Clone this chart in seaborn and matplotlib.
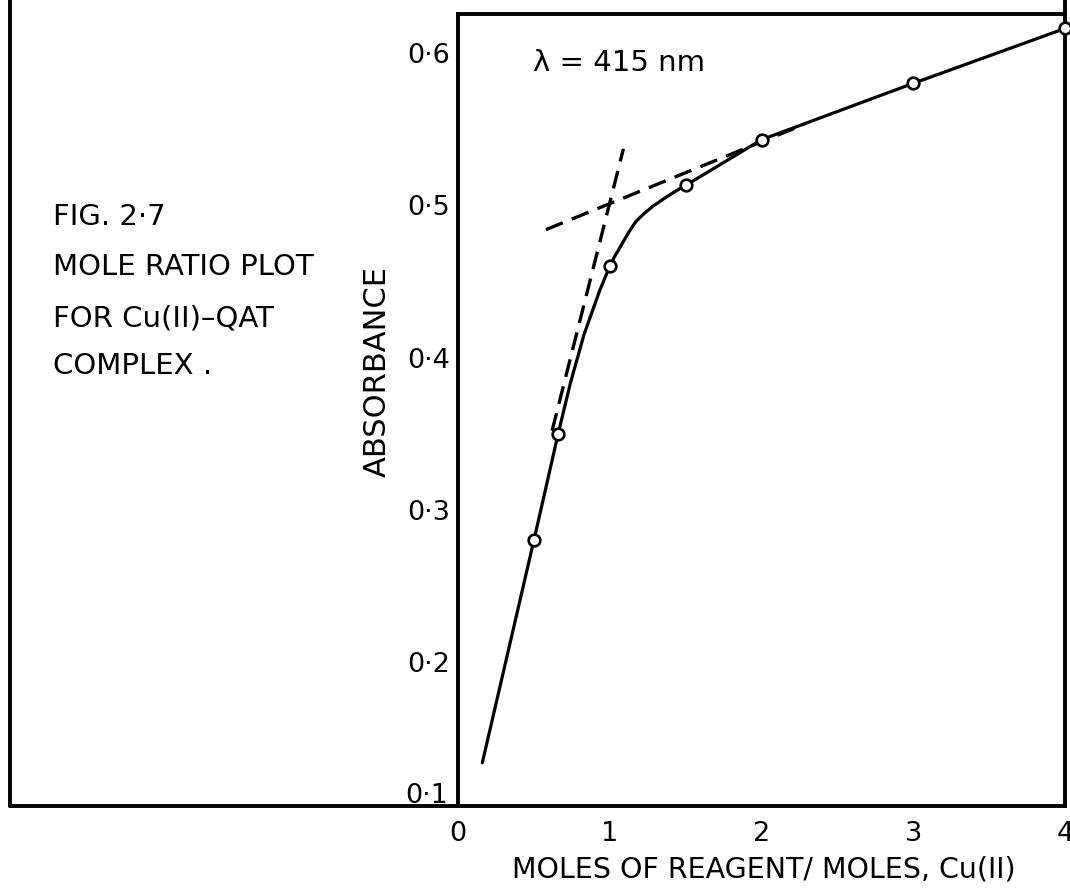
import numpy as np
import pandas as pd
import matplotlib.pyplot as plt
from matplotlib.lines import Line2D
from matplotlib.ticker import FixedLocator, FixedFormatter
import seaborn as sns

# --- data ---
ratio_pts = [0.5, 0.66, 1.0, 1.5, 2.0, 3.0, 4.0]
absorb_pts = [0.28, 0.35, 0.46, 0.513, 0.543, 0.58, 0.616]

# hand-drawn curve
curve_x = [0.16, 0.5, 0.66, 0.74, 0.83, 0.93, 1.0, 1.03, 1.06, 1.1, 1.13, 1.17,
           1.22, 1.28, 1.36, 1.43, 1.5, 1.75, 2.0, 3.0, 4.0]
curve_y = [0.134, 0.28, 0.35, 0.383, 0.415, 0.443, 0.46, 0.466, 0.471, 0.478, 0.483, 0.489,
           0.494, 0.499, 0.5045, 0.509, 0.513, 0.528, 0.543, 0.58, 0.616]

# tangent (dashed) lines
steep_x = [0.62, 1.09]
steep_y = [0.352, 0.537]
shallow_x = [0.58, 2.28]
shallow_y = [0.484, 0.553]

x_ticks = [0, 1, 2, 3, 4]
x_labels = ["0", "1", "2", "3", "4"]
y_ticks = [0.2, 0.3, 0.4, 0.5, 0.6]
y_labels = ["0·2", "0·3", "0·4", "0·5", "0·6"]

caption = ["FIG. 2·7", "MOLE RATIO PLOT", "FOR Cu(II)–QAT", "COMPLEX ."]

# --- style ---
sns.set_theme(style="white")
plt.rcParams["font.family"] = ["DejaVu Sans"]
plt.rcParams["lines.scale_dashes"] = False

fig = plt.figure(figsize=(10.7, 8.94), dpi=100)
ax = fig.add_axes([458 / 1070, 88 / 894, 607 / 1070, 792 / 894])

pts = pd.DataFrame({"ratio": ratio_pts, "absorbance": absorb_pts})
curve = pd.DataFrame({"ratio": curve_x, "absorbance": curve_y})

sns.lineplot(data=curve, x="ratio", y="absorbance", sort=False, color="black",
             linewidth=2.3, ax=ax, zorder=2)
sns.lineplot(x=steep_x, y=steep_y, color="black", linewidth=2.4,
             linestyle=(0, (13, 7)), ax=ax, zorder=2)
sns.lineplot(x=shallow_x, y=shallow_y, color="black", linewidth=2.4,
             linestyle=(0, (13, 7)), ax=ax, zorder=2)
sns.scatterplot(data=pts, x="ratio", y="absorbance", s=70, marker="o",
                facecolor="white", edgecolor="black", linewidth=1.9,
                ax=ax, zorder=3, clip_on=False)

ax.set_xlim(0, 4)
ax.set_ylim(0.1057, 0.6255)

ax.xaxis.set_major_locator(FixedLocator(x_ticks))
ax.xaxis.set_major_formatter(FixedFormatter(x_labels))
ax.yaxis.set_major_locator(FixedLocator(y_ticks))
ax.yaxis.set_major_formatter(FixedFormatter(y_labels))
ax.tick_params(axis="both", direction="in", length=9, width=2.2, color="black",
               labelsize=19.5, labelcolor="black")
ax.tick_params(axis="x", pad=11)
ax.tick_params(axis="y", pad=6)

for side in ["left", "right", "top", "bottom"]:
    ax.spines[side].set_visible(True)
    ax.spines[side].set_color("black")
    ax.spines[side].set_linewidth(2.8)

# lower y label sits on the baseline
ax.text(-0.0165, 0.004, "0·1", transform=ax.transAxes, ha="right", va="baseline",
        fontsize=19.5, color="black")

ax.set_xlabel("MOLES OF REAGENT/ MOLES, Cu(II)", fontsize=20.5, color="black")
ax.xaxis.set_label_coords(0.503, -0.062)
ax.set_ylabel("ABSORBANCE", fontsize=22, color="black", va="center")
ax.yaxis.set_label_coords(-0.1334, 0.548)

ax.text(0.495, 0.5935, "λ = 415 nm", fontsize=21, va="center", ha="left", color="black")

# caption on the left
cap_tops = [203, 253, 305, 352]
for line, top in zip(caption, cap_tops):
    fig.text(53 / 1070, 1 - top / 894, line, fontsize=21, va="top", ha="left", color="black")

# outer frame of the scanned page
frame_y = 88 / 894
fig.add_artist(Line2D([10 / 1070, 10 / 1070], [frame_y, 1.0], color="black", linewidth=2.8))
fig.add_artist(Line2D([10 / 1070, 458 / 1070], [frame_y, frame_y], color="black", linewidth=2.8))
fig.add_artist(Line2D([1065 / 1070, 1065 / 1070], [1 - 14 / 894, 1.0], color="black", linewidth=2.8))

fig.savefig("out.png", dpi=100, facecolor="white")
